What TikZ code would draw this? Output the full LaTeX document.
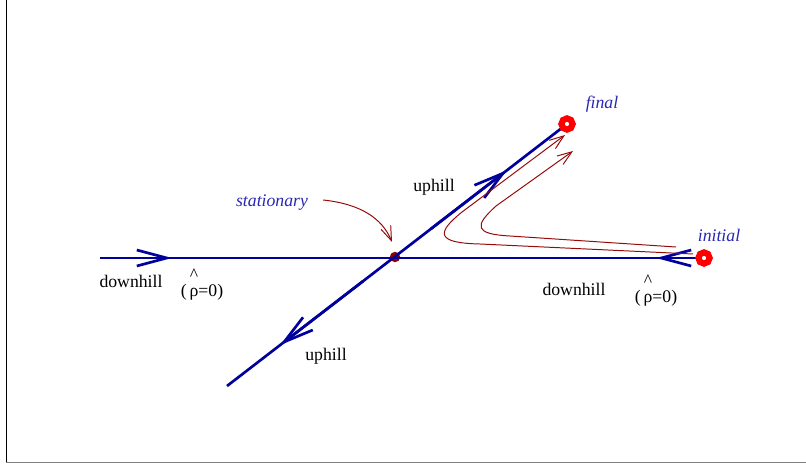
\documentclass[tikz,border=0pt]{standalone}
\usepackage{fontspec}
\setmainfont{Liberation Serif}
\usetikzlibrary{arrows.meta,calc}

\definecolor{pathblue}{RGB}{0,0,155}
\definecolor{labelblue}{RGB}{40,40,180}
\definecolor{trailred}{RGB}{150,10,10}
\definecolor{dotred}{RGB}{140,0,0}

\newcommand{\rhohat}{\begin{tabular}[b]{@{}c@{}}\textasciicircum\\[-0.6ex]ρ\end{tabular}}

\begin{document}
\begin{tikzpicture}[
    x=0.025cm, y=-0.025cm,
    flow/.style={
      draw=pathblue,
      line width=1.9pt
    },
    flowtip/.style={
      -{Straight Barb[length=7.5mm,width=4mm]}
    },
    trail/.style={
      draw=trailred,
      line width=0.7pt,
      -{Straight Barb[length=3.6mm,width=2.6mm]}
    },
    ring/.style={
      circle,
      draw=red,
      fill=white,
      line width=4.4pt,
      minimum size=2.8mm,
      inner sep=0pt
    },
    statdot/.style={
      circle,
      fill=dotred,
      minimum size=2.6mm,
      inner sep=0pt
    },
    tag/.style={
      font=\fontsize{12.6}{15}\selectfont,
      inner sep=0pt
    },
    pointtag/.style={
      tag,
      font=\fontsize{12.6}{15}\selectfont\itshape,
      text=labelblue
    }
  ]

    \useasboundingbox (0,0) rectangle (806,466);

    % --- Frame
    \draw[black, line width=1pt] (6.5,0) -- (6.5,462);
    \draw[gray, line width=1.4pt] (6,462.5) -- (806,462.5);

    % --- Points
    \node[statdot] (stat) at (395,257) {};
    \coordinate (lend) at (100,258);
    \coordinate (pinit) at (704,258);
    \coordinate (dend) at (227,386);
    \coordinate (pfinal) at (567,124);

    % --- Horizontal direction (downhill)
    \draw[flow] (lend) -- (pinit);
    \draw[flow, flowtip] (lend) -- (172,258);
    \draw[flow, flowtip] (pinit) -- (656,258);

    % --- Diagonal direction (uphill)
    \draw[flow] (dend) -- (pfinal);
    \draw[flow, flowtip] ($(dend)!0.6!(pfinal)$) -- ($(dend)!0.824!(pfinal)$);
    \draw[flow, flowtip] ($(dend)!0.4!(pfinal)$) -- ($(dend)!0.156!(pfinal)$);

    % --- End points
    \node[ring] (final) at (pfinal) {};
    \node[ring] (initial) at (pinit) {};

    % --- Trajectories from initial to final
    \draw[trail]
      ($(initial)+(-11,-4)$) -- (480,244)
      .. controls (436,243) and (436,233) .. (462,212) -- ($(final)+(-2,11)$);
    \draw[trail]
      ($(initial)+(-28,-11)$) -- (510,236)
      .. controls (474,234) and (474,226) .. (496,206) -- (573,151);

    % --- Labels
    \node[pointtag] (finallabel) at (602,104) {final};
    \node[pointtag] (initlabel) at (719,235) {initial};
    \node[pointtag] (statlabel) at (272,203) {stationary};
    \node[tag] (upA) at (434,187) {uphill};
    \node[tag] (upB) at (326,356) {uphill};
    \node[tag] (downA) at (131,281) {downhill};
    \node[tag] (downB) at (574,289) {downhill};
    \node[tag] (rhoA) at (202,284) {(\,\rhohat=0)};
    \node[tag] (rhoB) at (656,290) {(\,\rhohat=0)};

    % --- Pointer to the stationary point
    \draw[trail]
      ($(statlabel.east)+(15,-3)$) .. controls +(37,4) and +(-10,-24) .. ($(stat)+(-3,-15)$);

  \end{tikzpicture}
\end{document}
